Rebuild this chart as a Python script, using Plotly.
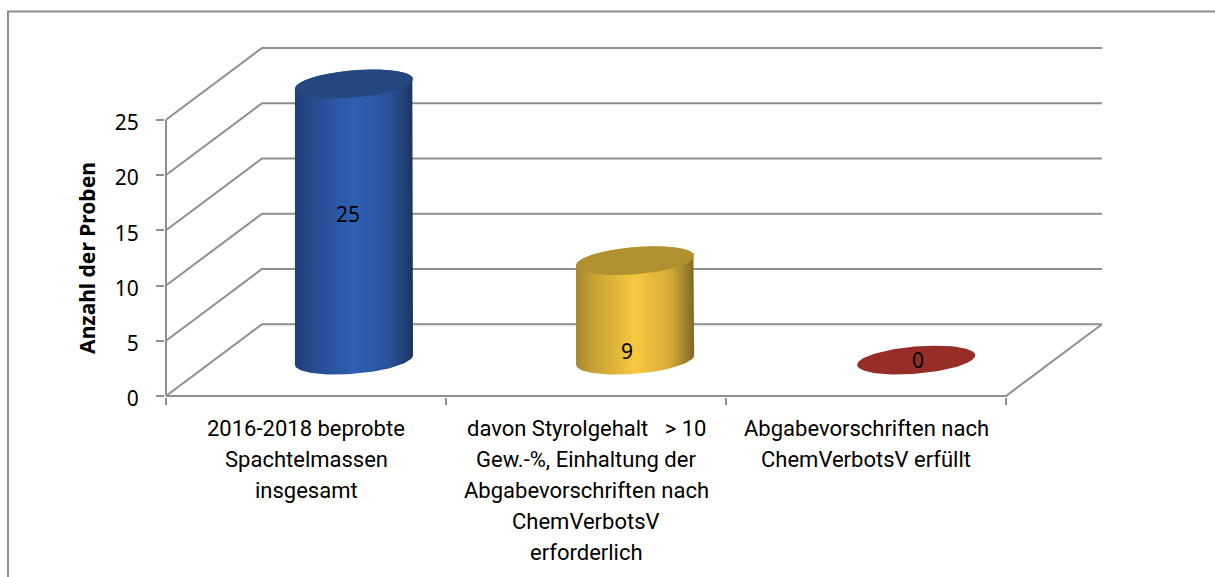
import numpy as np
import plotly.graph_objects as go

W, H = 1215, 577

# Sample counts per category, with category names split into printed lines
category_lines = [
    ["2016-2018 beprobte", "Spachtelmassen", "insgesamt"],
    ["davon Styrolgehalt \u00a0\u00a0> 10", "Gew.-%, Einhaltung der",
     "Abgabevorschriften nach", "ChemVerbotsV", "erforderlich"],
    ["Abgabevorschriften nach", "ChemVerbotsV erfüllt"],
]
values = [25, 9, 0]
value_label_y = [13.2, 0.85, 0.0]
value_label_dx = [-6, -8, 2]

y_ticks = [0, 5, 10, 15, 20, 25]
y_title = "Anzahl der Proben"

body_scales = [
    [[0, "#1f3f75"], [0.12, "#26498a"], [0.5, "#2f60b5"], [0.8, "#2a5299"], [1, "#1c3460"]],
    [[0, "#a5862c"], [0.12, "#c29d33"], [0.5, "#f6c93f"], [0.8, "#d4ab38"], [1, "#7d6828"]],
    [[0, "#962d27"], [1, "#962d27"]],
]
top_colors = ["#24477f", "#b1912f", "#962d27"]

GREY = "#8f8f8f"
TEXT_FONT = "Noto Sans"
LABEL_FONT = "Roboto"

# Scale of the front plane and pixel position of its origin
PX_X, PX_Y = 280.0, 11.08
X0_PX, Y0_PX = 166.0, 396.5
# Oblique projection of the chart box, in axis units
DEPTH_X = 96 / PX_X
DEPTH_Y = 72 / PX_Y
# Ellipse terms of a cylinder cross-section, in axis units
EA, EB, EC = 55.8 / PX_X, 19.3 / PX_X, 14.5 / PX_Y
n_cat = len(category_lines)

# The plot area spans the whole box, with a small pad so edge lines are not clipped
PAD_LOW, PAD_HIGH = 1.0, 2.0
x_range = [-PAD_LOW / PX_X, n_cat + DEPTH_X + PAD_HIGH / PX_X]
y_range = [-PAD_LOW / PX_Y, y_ticks[-1] + DEPTH_Y + PAD_HIGH / PX_Y]
plot_left = X0_PX - PAD_LOW
plot_right = X0_PX + x_range[1] * PX_X
plot_bottom = Y0_PX + PAD_LOW
plot_top = Y0_PX - y_range[1] * PX_Y


def paper_x(px):
    return (px - plot_left) / (plot_right - plot_left)


def paper_y(px):
    return (plot_bottom - px) / (plot_bottom - plot_top)


fig = go.Figure()


def line(xs, ys):
    fig.add_trace(go.Scatter(
        x=xs, y=ys, mode="lines", line=dict(color=GREY, width=2),
        hoverinfo="skip", showlegend=False))


# Side and back walls: one bent line per y tick
for tick in y_ticks:
    line([0, DEPTH_X, n_cat + DEPTH_X], [tick, tick + DEPTH_Y, tick + DEPTH_Y])
# Front edges and the right edge of the floor
line([0, 0], [0, y_ticks[-1]])
line([0, n_cat, n_cat + DEPTH_X], [0, 0, DEPTH_Y])


def centre(i):
    return i + 0.5 + DEPTH_X / 2 + 0.004 * i


def ring(i, t):
    return centre(i) + EA * np.cos(t) + EB * np.sin(t), EC * np.sin(t)


t_left = np.pi + np.arctan2(EB, EA)
t_all = np.linspace(0, 2 * np.pi, 121)

for i, v in enumerate(values):
    base = DEPTH_Y / 2
    if v > 0:
        # Cylinder wall: lower half of the base ellipse, closed over the upper half of the top
        t_low = np.linspace(t_left, t_left + np.pi, 61)
        bx, by = ring(i, t_low)
        tx, ty = ring(i, t_low + np.pi)
        fig.add_trace(go.Scatter(
            x=np.r_[bx, tx], y=np.r_[by + base, ty + base + v],
            mode="lines", line=dict(width=0), fill="toself",
            fillgradient=dict(type="horizontal", colorscale=body_scales[i]),
            hoverinfo="skip", showlegend=False))
    ex, ey = ring(i, t_all)
    fig.add_trace(go.Scatter(
        x=ex, y=ey + base + v, mode="lines", line=dict(width=0),
        fill="toself", fillcolor=top_colors[i],
        hoverinfo="skip", showlegend=False))
    fig.add_annotation(
        x=centre(i), y=base + value_label_y[i],
        xshift=value_label_dx[i], text=str(v), showarrow=False,
        font=dict(family=TEXT_FONT, size=21, color="black"))

# Category names, one annotation per printed line
LINE_STEP_PX = 31
FIRST_LINE_PX = 429
for i, lines in enumerate(category_lines):
    for k, txt in enumerate(lines):
        fig.add_annotation(
            xref="paper", yref="paper",
            x=paper_x(X0_PX + (i + 0.5) * PX_X), y=paper_y(FIRST_LINE_PX + k * LINE_STEP_PX),
            text=txt, showarrow=False, xanchor="center", yanchor="middle",
            font=dict(family=LABEL_FONT, size=22, color="black"))

# Rotated value-axis title centred on the front plane
fig.add_annotation(
    xref="paper", yref="y", x=paper_x(87), y=y_ticks[-1] / 2,
    text="<b>" + y_title + "</b>", textangle=-90, xanchor="center", yanchor="middle",
    showarrow=False, font=dict(family=TEXT_FONT, size=21, color="black"))

fig.update_layout(
    width=W, height=H, autosize=False,
    margin=dict(l=plot_left, r=W - plot_right, t=plot_top, b=H - plot_bottom, autoexpand=False),
    plot_bgcolor="rgba(0,0,0,0)", paper_bgcolor="white",
    font=dict(family=TEXT_FONT, color="black"),
    xaxis=dict(
        range=x_range, tickmode="array", tickvals=list(range(n_cat + 1)), showticklabels=False,
        ticks="outside", ticklen=7, tickwidth=2, tickcolor=GREY,
        showgrid=False, zeroline=False, showline=False,
    ),
    yaxis=dict(
        range=y_range, tickmode="array", tickvals=y_ticks,
        ticks="outside", ticklen=8, tickwidth=2, tickcolor=GREY,
        showgrid=False, zeroline=False, showline=False,
        ticklabelstandoff=13, ticklabelshift=3,
        tickfont=dict(family=TEXT_FONT, size=21, color="black"),
    ),
    shapes=[dict(
        type="rect", xref="paper", yref="paper", layer="below",
        x0=paper_x(8), x1=paper_x(W + 20), y0=paper_y(H + 20), y1=paper_y(11),
        line=dict(color=GREY, width=2), fillcolor="rgba(0,0,0,0)",
    )],
)
fig.write_html("out.html", config={"displayModeBar": False})
